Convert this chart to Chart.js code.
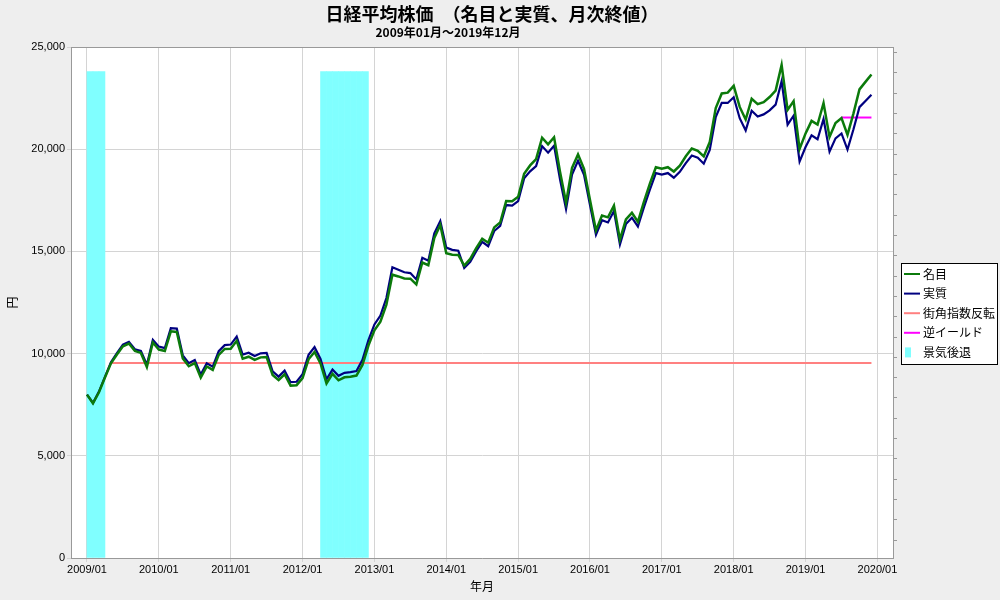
<!DOCTYPE html>
<html lang="ja">
<head>
<meta charset="utf-8">
<title>日経平均株価</title>
<script src="https://cdn.jsdelivr.net/npm/chart.js@4.4.0/dist/chart.umd.min.js"></script>
<style>
  html, body { margin: 0; padding: 0; background: #eeeeee; }
  #wrap { width: 1000px; height: 600px; }
</style>
</head>
<body>
<div id="wrap"><canvas id="nikkeiChart" width="1000" height="600"></canvas></div>
<script>
// 月次終値 2009/01 - 2019/12
const firstYear = 2009;
const nominal = [
  7994, 7568, 8109, 8828, 9523, 9958, 10357, 10492, 10133, 10034, 9345, 10546,
  10198, 10126, 11089, 11057, 9768, 9382, 9537, 8824, 9369, 9202, 9937, 10228,
  10237, 10624, 9755, 9849, 9693, 9816, 9833, 8955, 8700, 8988, 8434, 8455,
  8803, 9723, 10083, 9521, 8542, 9007, 8695, 8840, 8870, 8928, 9446, 10395,
  11139, 11559, 12398, 13861, 13775, 13677, 13668, 13389, 14456, 14328, 15662, 16291,
  14915, 14841, 14828, 14304, 14632, 15162, 15621, 15425, 16174, 16414, 17460, 17451,
  17674, 18798, 19207, 19520, 20563, 20236, 20585, 18890, 17388, 19083, 19747, 19034,
  17518, 16027, 16759, 16666, 17235, 15576, 16569, 16887, 16450, 17425, 18308, 19114,
  19041, 19119, 18909, 19197, 19651, 20033, 19925, 19646, 20356, 22012, 22725, 22765,
  23098, 22068, 21454, 22468, 22202, 22305, 22554, 22865, 24120, 21920, 22351, 20015,
  20773, 21385, 21206, 22259, 20601, 21276, 21522, 20704, 21756, 22927, 23294, 23657,
];
const real = [
  7994, 7583, 8141, 8863, 9571, 10018, 10440, 10576, 10214, 10134, 9457, 10673,
  10341, 10268, 11244, 11223, 9915, 9532, 9690, 8974, 9528, 9358, 10116, 10412,
  10442, 10836, 9950, 10046, 9887, 10012, 10030, 9134, 8874, 9168, 8603, 8624,
  8997, 9937, 10315, 9740, 8747, 9223, 8912, 9061, 9092, 9151, 9692, 10665,
  11429, 11860, 12720, 14221, 14106, 13978, 13941, 13630, 14687, 14543, 15881, 16486,
  15183, 15078, 15036, 14190, 14486, 15010, 15465, 15255, 15996, 16250, 17268, 17242,
  17462, 18572, 18919, 19169, 20152, 19831, 20173, 18512, 17075, 18759, 19431, 18749,
  17273, 15819, 16524, 16416, 16976, 15342, 16337, 16651, 16220, 17146, 18015, 18827,
  18755, 18832, 18606, 18890, 19317, 19692, 19586, 19292, 19969, 21572, 22271, 22264,
  22544, 21516, 20918, 21884, 21603, 21703, 21900, 22179, 23324, 21197, 21636, 19395,
  20108, 20679, 20485, 21480, 19880, 20531, 20769, 19979, 20973, 22056, 22362, 22663,
];
const recessionMonths = ["2009/01", "2009/02", "2009/03",
  "2012/04", "2012/05", "2012/06", "2012/07", "2012/08", "2012/09", "2012/10", "2012/11"];
const recessionTop = 23800;
const machikadoLevel = 9540;
const machikadoRange = ["2009/05", "2019/12"];
const inverseYieldLevel = 21550;
const inverseYieldRange = ["2019/07", "2019/12"];
const xTickLabels = ["2009/01", "2010/01", "2011/01", "2012/01", "2013/01", "2014/01",
  "2015/01", "2016/01", "2017/01", "2018/01", "2019/01", "2020/01"];
const yTicks = [0, 5000, 10000, 15000, 20000, 25000];

const titleText = "日経平均株価　（名目と実質、月次終値）";
const subtitleText = "2009年01月～2019年12月";
const legendItems = [
  { label: "名目", color: "#0b7a0b", kind: "line" },
  { label: "実質", color: "#000080", kind: "line" },
  { label: "街角指数反転", color: "#ff8080", kind: "line" },
  { label: "逆イールド", color: "#ff00ff", kind: "line" },
  { label: "景気後退", color: "#80ffff", kind: "box" },
];

function monthIndex(s) {
  const [y, m] = s.split("/").map(Number);
  return (y - firstYear) * 12 + (m - 1);
}
function monthLabel(i) {
  const y = firstYear + Math.floor(i / 12);
  const m = (i % 12) + 1;
  return y + "/" + String(m).padStart(2, "0");
}

const jp = '"Noto Sans CJK JP", "Noto Sans", sans-serif';
Chart.defaults.font.family = '"Liberation Sans", "Noto Sans CJK JP", sans-serif';
Chart.defaults.font.size = 11;
Chart.defaults.color = "#000";

const chartFrame = {
  id: "chartFrame",
  beforeDraw(chart) {
    const { ctx, chartArea: a } = chart;
    ctx.save();
    ctx.fillStyle = "#eeeeee";
    ctx.fillRect(0, 0, chart.width, chart.height);
    ctx.fillStyle = "#ffffff";
    ctx.fillRect(a.left, a.top, a.right - a.left, a.bottom - a.top);
    ctx.restore();
  },
  afterDraw(chart) {
    const { ctx, chartArea: a } = chart;
    ctx.save();
    ctx.strokeStyle = "#999999";
    ctx.lineWidth = 1;
    ctx.beginPath();
    ctx.moveTo(a.left, a.top + 0.5);
    ctx.lineTo(a.right, a.top + 0.5);
    ctx.stroke();

    // titles
    ctx.fillStyle = "#000";
    ctx.textAlign = "center";
    ctx.textBaseline = "middle";
    ctx.font = "bold 18px " + jp;
    ctx.fillText(titleText, 492, 14);
    ctx.font = "bold 12px " + jp;
    ctx.fillText(subtitleText, 448, 32);

    // legend box
    const bx = 901, by = 263, bw = 97, bh = 102;
    ctx.textAlign = "left";
    ctx.fillStyle = "#ffffff";
    ctx.fillRect(bx, by, bw, bh);
    ctx.strokeStyle = "#000000";
    ctx.strokeRect(bx + 0.5, by + 0.5, bw - 1, bh - 1);
    ctx.font = "12px " + jp;
    legendItems.forEach((item, i) => {
      const y = by + 11 + i * 19.6;
      if (item.kind === "line") {
        ctx.strokeStyle = item.color;
        ctx.lineWidth = 2;
        ctx.beginPath();
        ctx.moveTo(bx + 3, y);
        ctx.lineTo(bx + 19, y);
        ctx.stroke();
      } else {
        ctx.fillStyle = item.color;
        ctx.fillRect(bx + 4, y - 5, 6, 10);
      }
      ctx.fillStyle = "#000";
      ctx.fillText(item.label, bx + 22, y);
    });
    ctx.restore();
  },
};

const ctx = document.getElementById("nikkeiChart").getContext("2d");
const nikkeiChart = new Chart(ctx, {
  type: "line",
  data: {
    datasets: [
      {
        label: "名目",
        data: nominal.map((v, i) => ({ x: i, y: v })),
        borderColor: "#0b7a0b",
        borderWidth: 2.5,
        pointRadius: 0,
        tension: 0,
        order: 1,
      },
      {
        label: "実質",
        data: real.map((v, i) => ({ x: i, y: v })),
        borderColor: "#000080",
        borderWidth: 2.2,
        pointRadius: 0,
        tension: 0,
        order: 2,
      },
      {
        label: "街角指数反転",
        data: machikadoRange.map((s) => ({ x: monthIndex(s), y: machikadoLevel })),
        borderColor: "#ff8080",
        borderWidth: 2,
        pointRadius: 0,
        order: 4,
      },
      {
        label: "逆イールド",
        data: inverseYieldRange.map((s) => ({ x: monthIndex(s), y: inverseYieldLevel })),
        borderColor: "#ff00ff",
        borderWidth: 2,
        pointRadius: 0,
        order: 3,
      },
      {
        type: "bar",
        label: "景気後退",
        data: recessionMonths.map((s) => ({ x: monthIndex(s) + 0.5, y: recessionTop })),
        backgroundColor: "#80ffff",
        borderWidth: 0,
        barPercentage: 1,
        categoryPercentage: 1,
        grouped: false,
        order: 10,
      },
    ],
  },
  options: {
    responsive: false,
    animation: false,
    layout: { padding: { top: 47, left: 0, right: 0, bottom: 0 } },
    scales: {
      x: {
        type: "linear",
        min: -2.67,
        max: 134.6,
        offset: false,
        afterBuildTicks: (scale) => {
          scale.ticks = xTickLabels.map((s) => ({ value: monthIndex(s) }));
        },
        afterFit: (scale) => {
          scale.height = 42;
        },
        ticks: {
          autoSkip: false,
          maxRotation: 0,
          padding: 1,
          callback: (value) => monthLabel(value),
        },
        grid: { color: "#d4d4d4", tickLength: 4, offset: false },
        border: { color: "#999999" },
        title: {
          display: true,
          text: "年月",
          font: { family: jp, size: 12 },
          padding: { top: 0, bottom: 6 },
        },
      },
      y: {
        position: "left",
        min: 0,
        max: 25000,
        afterBuildTicks: (scale) => {
          scale.ticks = yTicks.map((v) => ({ value: v }));
        },
        afterFit: (scale) => {
          scale.width = 71;
        },
        ticks: {
          padding: 2,
          callback: (value) => value.toLocaleString("en-US"),
        },
        grid: { color: "#d4d4d4", tickLength: 4 },
        border: { color: "#999999" },
        title: {
          display: true,
          text: "円",
          font: { family: jp, size: 12 },
          padding: { top: 5, bottom: 0 },
        },
      },
      y2: {
        position: "right",
        min: -0.88,
        max: 24.28,
        afterBuildTicks: (scale) => {
          scale.ticks = Array.from({ length: 25 }, (_, k) => ({ value: k }));
        },
        afterFit: (scale) => {
          scale.width = 107;
        },
        ticks: { display: false },
        grid: { drawOnChartArea: false, color: "#999999", tickLength: 4 },
        border: { color: "#999999" },
      },
    },
    plugins: {
      legend: { display: false },
      tooltip: { enabled: false },
    },
  },
  plugins: [chartFrame],
});
</script>
</body>
</html>
